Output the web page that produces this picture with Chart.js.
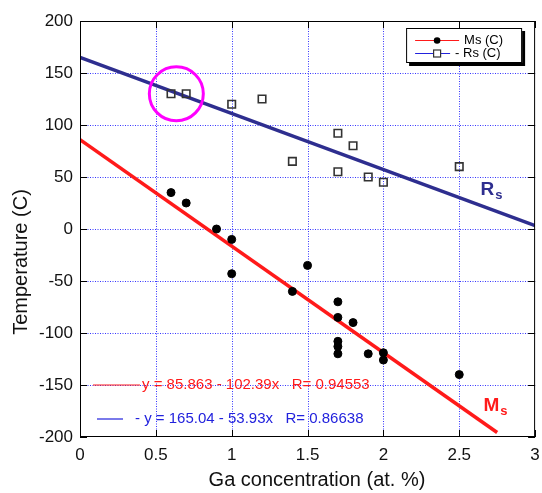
<!DOCTYPE html>
<html>
<head>
<meta charset="utf-8">
<script src="https://cdn.jsdelivr.net/npm/chart.js@4.4.1/dist/chart.umd.min.js"></script>
<style>
html, body { margin: 0; padding: 0; background: #fff; }
#wrap { width: 542px; height: 493px; }
</style>
</head>
<body>
<div id="wrap"><canvas id="chart" width="542" height="493"></canvas></div>
<script>
// Ms (C) measured points
const msX = [0.6, 0.7, 0.9, 1.0, 1.0, 1.4, 1.5, 1.7, 1.7, 1.7, 1.7, 1.7, 1.8, 1.9, 2.0, 2.0, 2.5];
const msY = [35, 25, 0, -10, -43, -60, -35, -70, -85, -108, -113, -120, -90, -120, -119, -126, -140];

// Rs (C) measured points
const rsX = [0.6, 0.7, 1.0, 1.2, 1.4, 1.7, 1.7, 1.8, 1.9, 2.0, 2.5];
const rsY = [130, 130, 120, 125, 65, 92, 55, 80, 50, 45, 60];

// fitted lines, end points
const msFitX = [0, 2.75];
const msFitY = [85.9, -195.7];
const rsFitX = [0, 3];
const rsFitY = [165.0, 3.2];

const xTicks = [0, 0.5, 1, 1.5, 2, 2.5, 3];
const yTicks = [-200, -150, -100, -50, 0, 50, 100, 150, 200];

const fitLabels = ['y = 85.863 - 102.39x   R= 0.94553', '- y = 165.04 - 53.93x   R= 0.86638'];
const legendLabels = ['Ms (C)', '- Rs (C)'];

const FONT = '"Liberation Sans", Arial, Helvetica, sans-serif';
const RED = '#ff1a1a';
const NAVY = '#2e2e8f';
const BLUE_TXT = '#2222dd';

const toPoints = (xs, ys) => xs.map((v, i) => ({ x: v, y: ys[i] }));

const line = (ctx, x1, y1, x2, y2) => {
    ctx.beginPath();
    ctx.moveTo(x1, y1);
    ctx.lineTo(x2, y2);
    ctx.stroke();
};

// dotted blue grid under the data
const grid = {
    id: 'grid',
    beforeDatasetsDraw(chart) {
        const { ctx, chartArea: a, scales: { x, y } } = chart;
        ctx.save();
        ctx.strokeStyle = '#3535ff';
        ctx.lineWidth = 1;
        ctx.setLineDash([1, 1.5]);
        xTicks.slice(1, -1).forEach(v => {
            const px = Math.round(x.getPixelForValue(v)) + 0.5;
            line(ctx, px, a.top, px, a.bottom);
        });
        yTicks.slice(1, -1).forEach(v => {
            const py = Math.round(y.getPixelForValue(v)) + 0.5;
            line(ctx, a.left, py, a.right, py);
        });
        ctx.restore();
    }
};

// frame, inner ticks, legend box, fit text and other annotations
const decor = {
    id: 'decor',
    afterDraw(chart) {
        const { ctx, chartArea: a, scales: { x, y } } = chart;
        ctx.save();

        // frame
        ctx.strokeStyle = '#000';
        ctx.lineWidth = 1;
        ctx.strokeRect(a.left + 0.5, a.top + 0.5, a.right - a.left - 1, a.bottom - a.top - 1);

        // inner ticks on all four sides
        xTicks.forEach(v => {
            const px = Math.round(x.getPixelForValue(v)) + 0.5;
            line(ctx, px, a.bottom, px, a.bottom - 7);
            line(ctx, px, a.top, px, a.top + 7);
        });
        yTicks.forEach(v => {
            const py = Math.round(y.getPixelForValue(v)) + 0.5;
            line(ctx, a.left, py, a.left + 7, py);
            line(ctx, a.right, py, a.right - 7, py);
        });

        // magenta circle round the first two Rs points
        ctx.strokeStyle = '#ff00ff';
        ctx.lineWidth = 3;
        ctx.beginPath();
        ctx.arc(x.getPixelForValue(0.635), y.getPixelForValue(130), 27, 0, Math.PI * 2);
        ctx.stroke();

        // Rs / Ms labels next to the lines
        ctx.textBaseline = 'alphabetic';
        ctx.textAlign = 'left';
        ctx.fillStyle = NAVY;
        ctx.font = 'bold 19px ' + FONT;
        let px = x.getPixelForValue(2.64), py = y.getPixelForValue(33);
        ctx.fillText('R', px, py);
        let w = ctx.measureText('R').width;
        ctx.font = 'bold 13px ' + FONT;
        ctx.fillText('s', px + w + 1, py + 4);

        ctx.fillStyle = RED;
        ctx.font = 'bold 19px ' + FONT;
        px = x.getPixelForValue(2.66);
        py = y.getPixelForValue(-175);
        ctx.fillText('M', px, py);
        w = ctx.measureText('M').width;
        ctx.font = 'bold 13px ' + FONT;
        ctx.fillText('s', px + w + 1, py + 4);

        // fit equations
        ctx.font = '15px ' + FONT;
        ctx.textBaseline = 'middle';
        ctx.strokeStyle = RED;
        ctx.lineWidth = 1.2;
        line(ctx, a.left + 13, a.top + 364, a.left + 60, a.top + 364);
        ctx.fillStyle = RED;
        ctx.fillText(fitLabels[0], a.left + 62, a.top + 364);
        ctx.strokeStyle = BLUE_TXT;
        line(ctx, a.left + 17, a.top + 398, a.left + 43, a.top + 398);
        ctx.fillStyle = BLUE_TXT;
        ctx.fillText(fitLabels[1], a.left + 55, a.top + 398);

        // legend box with drop shadow
        const bx = a.right - 129, by = a.top + 7, bw = 116, bh = 35;
        ctx.fillStyle = '#000';
        ctx.fillRect(bx + 3, by + 3, bw, bh);
        ctx.fillStyle = '#fff';
        ctx.fillRect(bx, by, bw, bh);
        ctx.strokeStyle = '#000';
        ctx.lineWidth = 1;
        ctx.strokeRect(bx + 0.5, by + 0.5, bw - 1, bh - 1);

        const r1 = by + 12.5, r2 = by + 25.5;
        ctx.lineWidth = 1.2;
        ctx.strokeStyle = RED;
        line(ctx, bx + 9, r1, bx + 53, r1);
        ctx.fillStyle = '#000';
        ctx.beginPath();
        ctx.arc(bx + 31, r1, 3.3, 0, Math.PI * 2);
        ctx.fill();
        ctx.strokeStyle = BLUE_TXT;
        line(ctx, bx + 9, r2, bx + 44, r2);
        ctx.fillStyle = '#fff';
        ctx.fillRect(bx + 27.5, r2 - 3.5, 7, 7);
        ctx.strokeStyle = '#333';
        ctx.strokeRect(bx + 27.5, r2 - 3.5, 7, 7);

        ctx.fillStyle = '#000';
        ctx.font = '13px ' + FONT;
        ctx.textBaseline = 'middle';
        ctx.fillText(legendLabels[0], bx + 58, r1);
        ctx.fillText(legendLabels[1], bx + 49, r2);

        // axis titles
        ctx.font = '20px ' + FONT;
        ctx.textAlign = 'center';
        ctx.fillStyle = '#111';
        ctx.fillText('Ga concentration (at. %)', 317, 480);
        ctx.translate(21, 262);
        ctx.rotate(-Math.PI / 2);
        ctx.fillText('Temperature (C)', 0, 0);

        ctx.restore();
    }
};

const tickFont = { family: FONT, size: 17 };

new Chart(document.getElementById('chart'), {
    type: 'scatter',
    data: {
        datasets: [
            {
                label: 'Ms (C)',
                data: toPoints(msX, msY),
                pointStyle: 'circle',
                pointRadius: 4,
                backgroundColor: '#000',
                borderColor: '#000',
                order: 0
            },
            {
                label: 'Rs (C)',
                data: toPoints(rsX, rsY),
                pointStyle: 'rect',
                pointRadius: 5.3,
                backgroundColor: 'rgba(255,255,255,0)',
                borderColor: '#333',
                borderWidth: 1.6,
                order: 0
            },
            {
                label: 'Ms fit',
                type: 'line',
                data: toPoints(msFitX, msFitY),
                borderColor: RED,
                borderWidth: 3.5,
                pointRadius: 0,
                fill: false,
                order: 1
            },
            {
                label: 'Rs fit',
                type: 'line',
                data: toPoints(rsFitX, rsFitY),
                borderColor: NAVY,
                borderWidth: 3.5,
                pointRadius: 0,
                fill: false,
                order: 1
            }
        ]
    },
    options: {
        responsive: false,
        animation: false,
        devicePixelRatio: 1,
        layout: { padding: { top: 21, right: 2, left: 0, bottom: 0 } },
        plugins: {
            legend: { display: false },
            tooltip: { enabled: false }
        },
        scales: {
            x: {
                type: 'linear',
                min: 0,
                max: 3,
                afterBuildTicks: s => { s.ticks = xTicks.map(v => ({ value: v })); },
                afterFit: s => { s.height = 56; s.paddingLeft = 0; s.paddingRight = 0; },
                grid: { display: false, drawTicks: false },
                border: { display: false },
                ticks: { font: tickFont, color: '#111', padding: 8, maxRotation: 0, autoSkip: false, callback: v => String(v) }
            },
            y: {
                type: 'linear',
                min: -200,
                max: 200,
                afterBuildTicks: s => { s.ticks = yTicks.map(v => ({ value: v })); },
                afterFit: s => { s.width = 80; s.paddingTop = 0; s.paddingBottom = 0; },
                grid: { display: false, drawTicks: false },
                border: { display: false },
                ticks: { font: tickFont, color: '#111', padding: 7, autoSkip: false, callback: v => String(v) }
            }
        }
    },
    plugins: [grid, decor]
});
</script>
</body>
</html>
